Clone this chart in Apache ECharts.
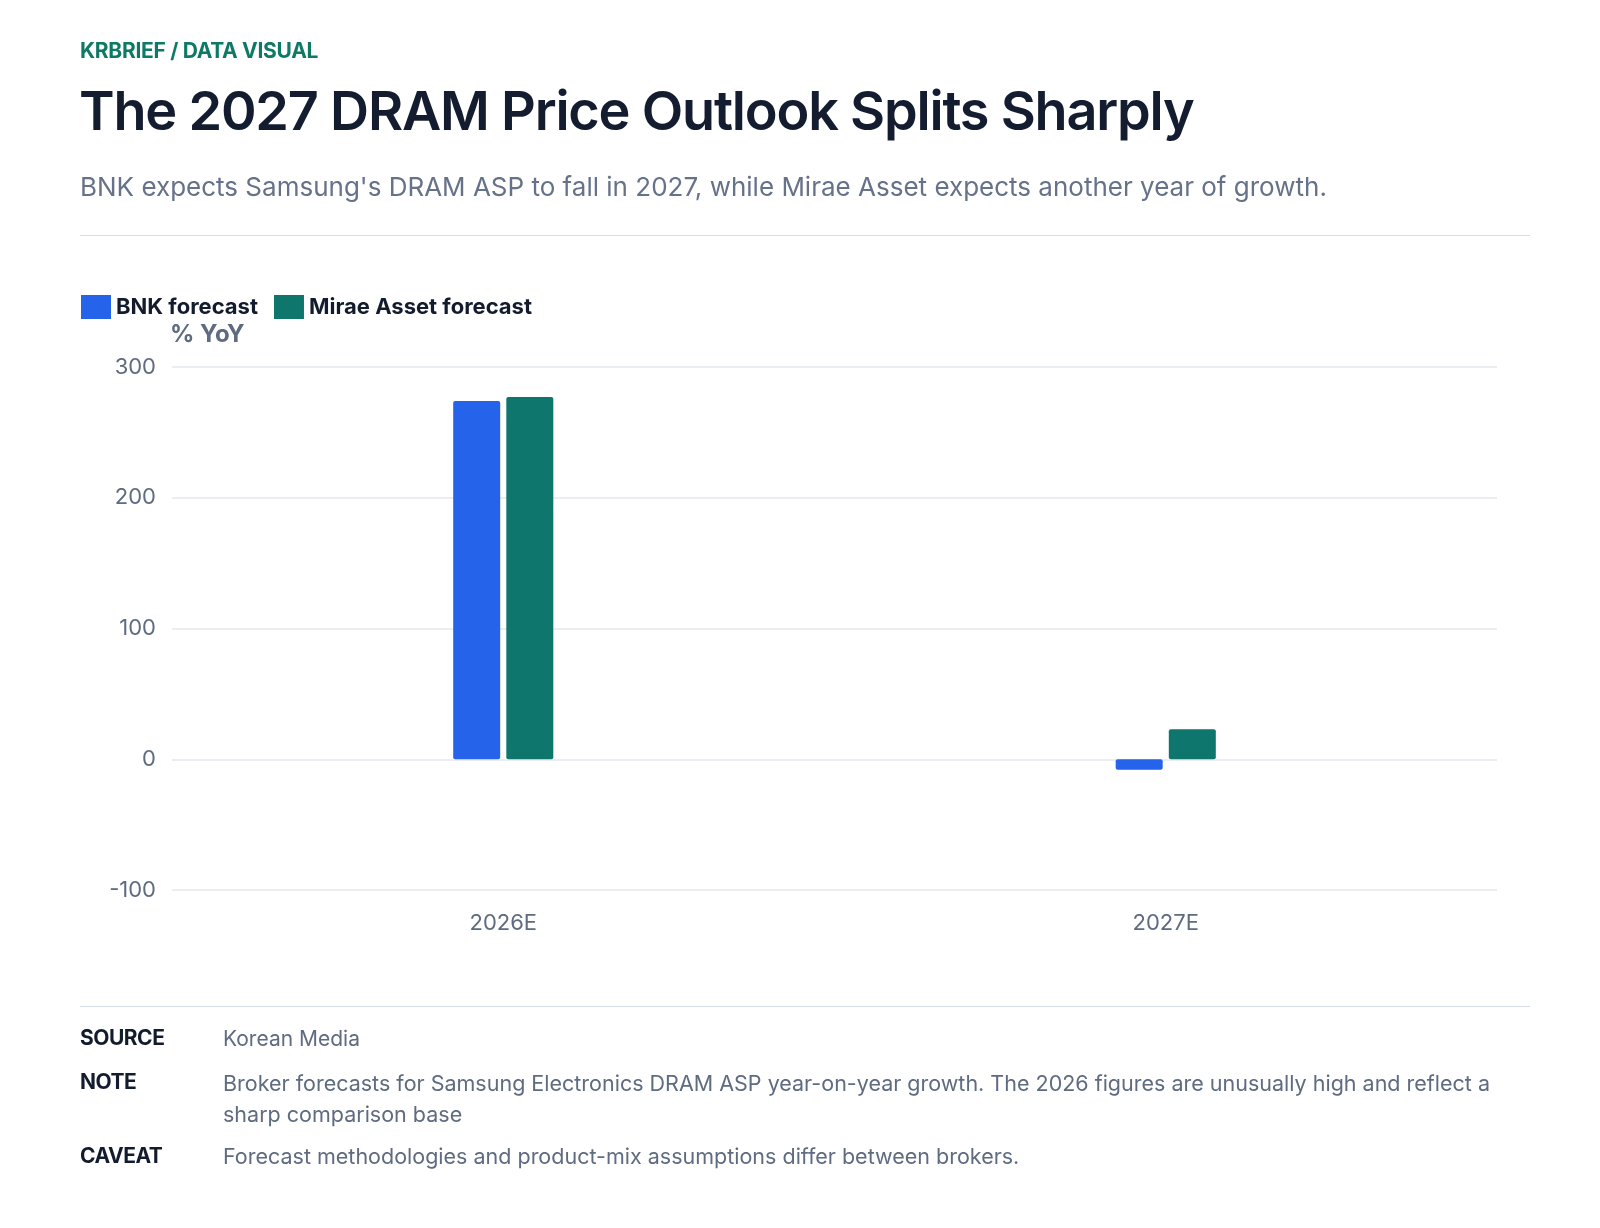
<!DOCTYPE html>
<html><head><meta charset="utf-8">
<script src="https://cdn.jsdelivr.net/npm/echarts@6/dist/echarts.min.js"></script>
<style>
body{margin:0;width:1600px;height:1228px;background:#fff;font-family:Inter,"Noto Sans",sans-serif;position:relative;overflow:hidden}
.a{position:absolute}
#c{position:absolute;left:0;top:0;width:1600px;height:1228px}
.lab{font-weight:700;color:#131c2e;font-size:21px;letter-spacing:-0.5px}
.txt{color:#5f6b80;font-size:21px}
</style></head><body>
<div id="c"></div>
<div class="a" style="left:80px;top:38px;color:#0e7a66;font-weight:700;font-size:21px;letter-spacing:-0.3px">KRBRIEF / DATA VISUAL</div>
<div class="a" style="left:79px;top:78px;color:#141c2f;font-weight:600;font-size:54px;letter-spacing:-1.2px">The 2027 DRAM Price Outlook Splits Sharply</div>
<div class="a" style="left:80px;top:171px;color:#66718a;font-size:26px">BNK expects Samsung's DRAM ASP to fall in 2027, while Mirae Asset expects another year of growth.</div>
<div class="a" style="left:80px;top:235px;width:1450px;height:1px;background:#d6dde8"></div>
<div class="a" style="left:80px;top:1006px;width:1450px;height:1px;background:#d6dde8"></div>
<div class="a lab" style="left:80px;top:1025px">SOURCE</div>
<div class="a txt" style="left:223px;top:1026px">Korean Media</div>
<div class="a lab" style="left:80px;top:1069px">NOTE</div>
<div class="a txt" style="left:223px;top:1068px;width:1300px;line-height:31px;font-size:21.5px">Broker forecasts for Samsung Electronics DRAM ASP year-on-year growth. The 2026 figures are unusually high and reflect a sharp comparison base</div>
<div class="a lab" style="left:80px;top:1143px">CAVEAT</div>
<div class="a txt" style="left:223px;top:1143px;font-size:21.5px">Forecast methodologies and product-mix assumptions differ between brokers.</div>
<script>
const categories=['2026E','2027E'];
const bnk=[274,-8];
const mirae=[277,23];
const chart=echarts.init(document.getElementById('c'));
chart.setOption({
 animation:false,
 legend:{left:76,top:290,itemWidth:30,itemHeight:24,itemGap:16,icon:'rect',
   textStyle:{fontFamily:'Inter',fontWeight:700,fontSize:22,color:'#131c2e'}},
 grid:{left:172,right:103,top:367,bottom:338},
 xAxis:{type:'category',data:categories,axisLine:{show:false},axisTick:{show:false},
   axisLabel:{fontFamily:'Inter',fontSize:22,color:'#5f6b80',margin:22}},
 yAxis:{type:'value',min:-100,max:300,interval:100,name:'% YoY',nameLocation:'end',nameGap:20,
   nameTextStyle:{fontFamily:'Inter',fontWeight:700,fontSize:24,color:'#5f6b80',align:'left',padding:[0,0,0,-2]},
   axisLabel:{fontFamily:'Inter',fontSize:22,color:'#5f6b80',margin:16},
   splitLine:{lineStyle:{color:'#e3e8ef',width:1.5}}},
 series:[
  {name:'BNK forecast',type:'bar',data:bnk,barWidth:47,barGap:'13%',itemStyle:{color:'#2563eb',borderRadius:2}},
  {name:'Mirae Asset forecast',type:'bar',data:mirae,barWidth:47,itemStyle:{color:'#0f766e',borderRadius:2}}
 ]
});
</script></body></html>
